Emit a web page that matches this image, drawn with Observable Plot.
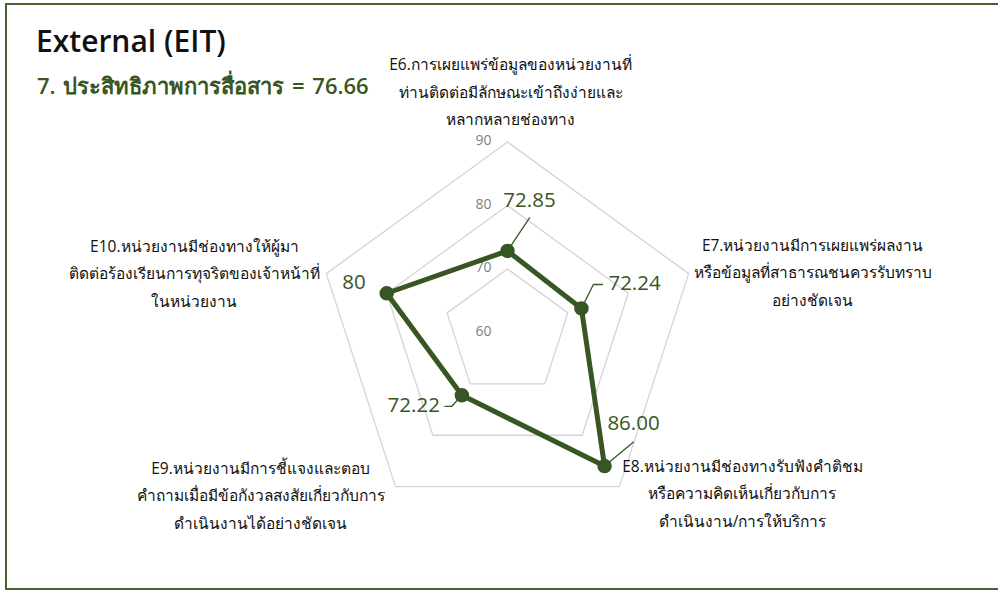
<!DOCTYPE html>
<html>
<head>
<meta charset="utf-8">
<script src="https://cdn.jsdelivr.net/npm/d3@7"></script>
<script src="https://cdn.jsdelivr.net/npm/@observablehq/plot@0.6"></script>
<style>
  html, body { margin: 0; padding: 0; background: #fff; overflow: hidden; }
  #wrap { position: relative; width: 998px; height: 594px; font-family: "Open Sans", "Noto Sans", sans-serif; }
  #frame { position: absolute; left: 5px; top: 3px; width: 1010px; height: 587px; border: 2px solid #4a6430; border-right: none; box-sizing: border-box; pointer-events: none; }
  #title { position: absolute; left: 36px; top: 22px; font-size: 30px; color: #111; line-height: 38px; font-weight: 600; }
  #subtitle { position: absolute; left: 37px; top: 70px; font-size: 22px; color: #375623; font-weight: 600; line-height: 30px; word-spacing: 2px; }
  #chart { position: absolute; left: 0; top: 0; }
</style>
</head>
<body>
<div id="wrap">
  <div id="chart"></div>
  <div id="frame"></div>
  <div id="title"></div>
  <div id="subtitle"></div>
</div>
<script>
// ---- data ----
const titleText = "External (EIT)";
const subtitleText = "7. ประสิทธิภาพการสื่อสาร = 76.66";
const categories = [
  "E6.การเผยแพร่ข้อมูลของหน่วยงานที่\nท่านติดต่อมีลักษณะเข้าถึงง่ายและ\nหลากหลายช่องทาง",
  "E7.หน่วยงานมีการเผยแพร่ผลงาน\nหรือข้อมูลที่สาธารณชนควรรับทราบ\nอย่างชัดเจน",
  "E8.หน่วยงานมีช่องทางรับฟังคำติชม\nหรือความคิดเห็นเกี่ยวกับการ\nดำเนินงาน/การให้บริการ",
  "E9.หน่วยงานมีการชี้แจงและตอบ\nคำถามเมื่อมีข้อกังวลสงสัยเกี่ยวกับการ\nดำเนินงานได้อย่างชัดเจน",
  "E10.หน่วยงานมีช่องทางให้ผู้มา\nติดต่อร้องเรียนการทุจริตของเจ้าหน้าที่\nในหน่วยงาน"
];
const values = [72.85, 72.24, 86.00, 72.22, 80];
const valueLabels = ["72.85", "72.24", "86.00", "72.22", "80"];
const ticks = [60, 70, 80, 90];

// ---- layout (pixels) ----
const W = 998, H = 594;
const cxPx = 507, cyPx = 332, pxPerUnit = 6.35;
const rMin = 60, rMax = 90;
// category label offsets from the outer vertex
const catOffset = [[3, -53], [124, -4], [123, 4], [-135, 6], [-132, -3]];
// value label offsets from the point and leader paths
const valOffset = [
  {dx: 22, dy: -50, anchor: "middle", leader: [[0,0],[22,-33]]},
  {dx: 27, dy: -25, anchor: "start", leader: [[0,0],[12,-24],[21,-24]]},
  {dx: 29, dy: -43, anchor: "middle", leader: [[0,0],[29,-24]]},
  {dx: -22, dy: 10, anchor: "end", leader: [[0,0],[-10,11],[-17,11]]},
  {dx: -21, dy: -11, anchor: "end", leader: null}
];

document.getElementById("title").textContent = titleText;
document.getElementById("subtitle").textContent = subtitleText;

const n = categories.length;
const ang = i => i * 2 * Math.PI / n;
const pol = (v, i) => {
  const r = v - rMin;
  return [r * Math.sin(ang(i)), r * Math.cos(ang(i))];
};
const u = px => px / pxPerUnit;

// rings
const rings = [];
ticks.filter(t => t > rMin).forEach(t => {
  for (let i = 0; i <= n; i++) {
    const [x, y] = pol(t, i % n);
    rings.push({ring: t, x, y});
  }
});
// data polygon
const poly = [];
for (let i = 0; i <= n; i++) {
  const [x, y] = pol(values[i % n], i % n);
  poly.push({x, y});
}
const pts = values.map((v, i) => {
  const [x, y] = pol(v, i);
  const o = valOffset[i];
  return {x, y, label: valueLabels[i], anchor: o.anchor, leader: o.leader,
          lx: x + u(o.dx), ly: y - u(o.dy)};
});
// leader lines
const leaders = [];
pts.forEach((p, i) => {
  if (!p.leader) return;
  p.leader.forEach(([dx, dy]) => leaders.push({k: i, x: p.x + u(dx), y: p.y - u(dy)}));
});
// category label positions
const cats = categories.map((c, i) => {
  const [x, y] = pol(rMax, i);
  return {text: c, x: x + u(catOffset[i][0]), y: y - u(catOffset[i][1])};
});
const tickData = ticks.map(t => ({t, y: t - rMin}));

const xDom = [-u(cxPx), u(W - cxPx)];
const yDom = [-u(H - cyPx), u(cyPx)];

const labelMark = anchor => Plot.text(pts.filter(p => p.anchor === anchor), {
  x: "lx", y: "ly", text: "label", textAnchor: anchor, lineAnchor: "middle", fill: "#375623", fontSize: 20.5
});

const chart = Plot.plot({
  width: W, height: H,
  margin: 0,
  x: {domain: xDom, axis: null},
  y: {domain: yDom, axis: null},
  style: {fontFamily: "'Open Sans', 'Noto Sans', sans-serif", background: "transparent"},
  marks: [
    Plot.line(rings, {x: "x", y: "y", z: "ring", stroke: "#d4d4d4", strokeWidth: 1.3}),
    Plot.text(tickData, {x: 0, y: "y", text: d => String(d.t), textAnchor: "end", dx: -16, dy: -1, fill: "#7f7f7f", fontSize: 14}),
    Plot.line(leaders, {x: "x", y: "y", z: "k", stroke: "#375623", strokeWidth: 1.3}),
    Plot.line(poly, {x: "x", y: "y", stroke: "#375623", strokeWidth: 5, strokeLinejoin: "round", curve: "linear"}),
    Plot.dot(pts, {x: "x", y: "y", r: 6.5, fill: "#375623", stroke: "#375623"}),
    labelMark("middle"),
    labelMark("start"),
    labelMark("end"),
    Plot.text(cats, {x: "x", y: "y", text: "text", textAnchor: "middle", lineAnchor: "middle", lineHeight: 1.77, fontSize: 15.5, fill: "#111"})
  ]
});
document.getElementById("chart").appendChild(chart);
</script>
</body>
</html>
